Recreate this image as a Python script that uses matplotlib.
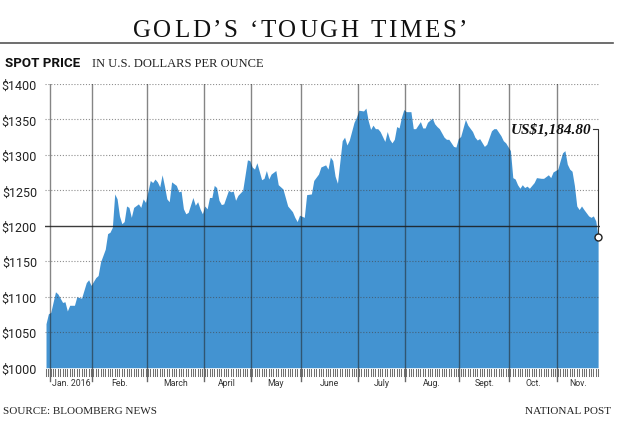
import numpy as np
import matplotlib
matplotlib.use('Agg')
import matplotlib.pyplot as plt
from matplotlib.lines import Line2D
from matplotlib.font_manager import FontProperties

# ---- data (trading-day index since Dec 31, 2015 -> spot price, USD/oz) ----
days = [0, 1, 2, 4, 5, 7, 8, 9, 10, 12, 13, 15, 17, 18, 19, 21, 22, 23, 25, 26,
        27, 28, 29, 30, 31, 32, 33, 34, 35, 36, 37, 39, 40, 41, 42, 44, 45, 46, 47, 48,
        49, 50, 51, 52, 53, 55, 56, 57, 58, 59, 60, 62, 63, 64, 65, 66, 67, 68, 69, 70,
        71, 72, 73, 74, 75, 77, 78, 79, 80, 81, 83, 85, 86, 87, 88, 89, 91, 92, 93, 94,
        95, 97, 98, 100, 102, 104, 105, 106, 107, 109, 110, 112, 113, 115, 116, 118, 119, 120, 121, 122,
        123, 125, 126, 127, 128, 130, 131, 132, 134, 135, 136, 137, 138, 139, 140, 141, 143, 144, 145, 146,
        147, 148, 149, 150, 151, 152, 154, 155, 156, 158, 159, 160, 161, 163, 164, 165, 166, 168, 169, 170,
        172, 173, 174, 175, 177, 178, 180, 181, 182, 183, 185, 186, 188, 189, 190, 192, 193, 194, 196, 197,
        198, 199, 200, 201, 202, 203, 204, 206, 207, 209, 210, 212, 213, 214, 216, 217, 218, 219, 220, 221,
        222, 223, 224, 225, 226, 227, 229, 230, 231, 232, 233]
prices = [1062, 1076, 1078, 1107, 1104, 1092, 1093, 1080, 1088, 1088, 1100, 1098, 1120, 1124, 1116, 1127, 1130, 1149, 1167, 1189,
          1191, 1198, 1245, 1238, 1214, 1203, 1206, 1228, 1226, 1212, 1226, 1231, 1226, 1238, 1233, 1264, 1261, 1266, 1262, 1255,
          1272, 1256, 1238, 1234, 1262, 1257, 1248, 1249, 1224, 1217, 1219, 1240, 1229, 1234, 1224, 1217, 1228, 1224, 1240, 1240,
          1257, 1254, 1236, 1230, 1231, 1250, 1248, 1249, 1236, 1243, 1250, 1293, 1292, 1283, 1280, 1289, 1265, 1267, 1278, 1266,
          1273, 1278, 1258, 1252, 1228, 1220, 1212, 1206, 1215, 1212, 1244, 1245, 1264, 1273, 1283, 1286, 1280, 1297, 1292, 1270,
          1260, 1320, 1325, 1314, 1321, 1346, 1353, 1363, 1362, 1366, 1348, 1336, 1342, 1337, 1337, 1333, 1319, 1333, 1322, 1317,
          1322, 1340, 1338, 1353, 1364, 1361, 1361, 1337, 1337, 1347, 1338, 1338, 1346, 1352, 1344, 1340, 1337, 1325, 1322, 1322,
          1312, 1311, 1323, 1326, 1350, 1342, 1333, 1325, 1321, 1323, 1312, 1315, 1334, 1337, 1337, 1327, 1320, 1317, 1306, 1268,
          1266, 1258, 1253, 1258, 1254, 1256, 1253, 1261, 1268, 1267, 1267, 1272, 1268, 1276, 1280, 1292, 1303, 1306, 1287, 1280,
          1277, 1257, 1228, 1223, 1228, 1223, 1214, 1212, 1214, 1207, 1184.8]

month_edges = [1.5, 19.5, 42.5, 66.5, 86.5, 107.5, 131.5, 151.5, 174.5, 195.5, 215.5]
month_labels = ['Jan. 2016', 'Feb.', 'March', 'April', 'May', 'June', 'July',
                'Aug.', 'Sept.', 'Oct.', 'Nov.']
y_ticks = [1000, 1050, 1100, 1150, 1200, 1250, 1300, 1350, 1400]
last_label = 'US$1,184.80'
title = 'GOLD\u2019S \u2018TOUGH TIMES\u2019'

W, H = 620, 427
fig = plt.figure(figsize=(W / 100, H / 100), dpi=100)
fig.patch.set_facecolor('white')

def fx(px):
    return px / W

def fy(py):
    return 1 - py / H

pt = 72 / 100  # px -> pt
ax_h_px = 368.7 - 85

ax = fig.add_axes([fx(45.3), fy(368.7), fx(600) - fx(45.3), fy(85) - fy(368.7)])
ax.set_facecolor('none')
ax.fill_between(days, prices, 1000, color='#4393d1', lw=0, zorder=2)
ax.set_xlim(-0.3, 233.8)
ax.set_ylim(1000, 1400)
for s in ax.spines.values():
    s.set_visible(False)

for v in y_ticks:
    if v == 1200:
        ax.axhline(v, color='#1a1a1a', lw=1.0, alpha=0.85, zorder=4)
    elif v > 1000:
        ax.axhline(v, color='#444444', lw=0.8, ls=(0, (1, 1.6)), alpha=0.6, zorder=3)

for e in month_edges:
    ax.axvline(e, color='#222222', lw=1.0, alpha=0.55, zorder=4)

ax.set_yticks(y_ticks)
ax.set_yticklabels(['$' + str(v) for v in y_ticks], family='Roboto', fontsize=9, color='#222222')
ax.tick_params(axis='y', length=0, pad=8.3 * pt)
ax.set_xticks([])

# daily tick strip and month ticks below the axis
xtrans = ax.get_xaxis_transform()
for d in range(0, 234):
    ax.add_artist(Line2D([d, d], [-8 / ax_h_px, -1 / ax_h_px], transform=xtrans,
                         color='#707070', lw=0.75, clip_on=False, zorder=3))
for e in month_edges:
    ax.add_artist(Line2D([e, e], [-13 / ax_h_px, 0], transform=xtrans,
                         color='#666666', lw=1.0, clip_on=False, zorder=3))

edges_ext = month_edges + [233.3]
for i, lab in enumerate(month_labels):
    c = (edges_ext[i] + edges_ext[i + 1]) / 2
    ax.annotate(lab, xy=(c, 0), xycoords=('data', 'axes fraction'),
                xytext=(0, -14.6 * pt), textcoords='offset points',
                ha='center', va='center', fontsize=6.3, family='Roboto', color='#333333')

# last point marker + annotation
ax.plot([days[-1]], [prices[-1]], marker='o', ms=7 * pt, mfc='white', mec='#222222',
        mew=1.0, zorder=7, clip_on=False)
ax.plot([230.7, days[-1], days[-1]], [1336.6, 1336.6, prices[-1] + 5.2], color='#333333',
        lw=0.8, zorder=6, clip_on=False)
ax.text(230.3, 1336.6, last_label, ha='right', va='center', fontsize=11,
        family='Liberation Serif', style='italic', weight='bold', color='#111111', zorder=7)

# ---- header ----
renderer = fig.canvas.get_renderer()
tprops = FontProperties(family='Liberation Serif', size=18)

def spaced(s, xc, ybase, track, props, color):
    widths = []
    for ch in s:
        if ch == ' ':
            widths.append(props.get_size_in_points() / pt * 0.25)
        else:
            w, h, d = renderer.get_text_width_height_descent(ch, props, ismath=False)
            widths.append(w)
    total = sum(widths) + track * (len(s) - 1)
    x = xc - total / 2
    for ch, w in zip(s, widths):
        if ch != ' ':
            fig.text(fx(x), fy(ybase), ch, fontproperties=props, color=color,
                     ha='left', va='baseline')
        x += w + track

spaced(title, 300, 36.7, 2.7, tprops, '#111111')

fig.add_artist(Line2D([0, fx(613)], [fy(44.3), fy(44.3)], color='#555555', lw=1.2))

fig.text(fx(5), fy(66.7), 'SPOT PRICE', family='Roboto', weight='bold', fontsize=9.6,
         color='#111111', ha='left', va='baseline')
fig.text(fx(91.7), fy(66.7), 'IN U.S. DOLLARS PER OUNCE', family='Liberation Serif',
         fontsize=9, color='#222222', ha='left', va='baseline')

fig.text(fx(2.7), fy(413.7), 'SOURCE: BLOOMBERG NEWS', family='Liberation Serif',
         fontsize=8, color='#222222', ha='left', va='baseline')
fig.text(fx(610.7), fy(413.7), 'NATIONAL POST', family='Liberation Serif',
         fontsize=8, color='#222222', ha='right', va='baseline')

fig.savefig('out.png', dpi=100, facecolor='white')
